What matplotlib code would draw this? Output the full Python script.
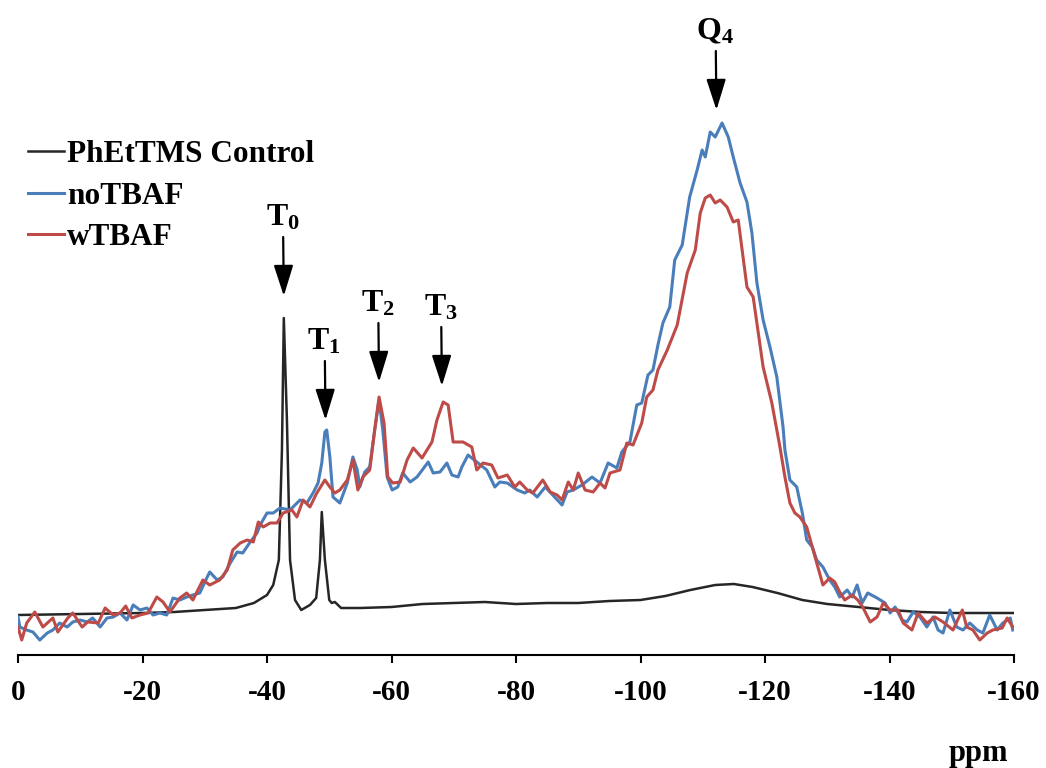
import numpy as np
import matplotlib
matplotlib.use("Agg")
import matplotlib.pyplot as plt

plt.rcParams["font.family"] = ["Liberation Serif", "DejaVu Serif"]
plt.rcParams["font.weight"] = "bold"
plt.rcParams["mathtext.fontset"] = "custom"
plt.rcParams["mathtext.bf"] = "Liberation Serif:bold"
plt.rcParams["mathtext.rm"] = "Liberation Serif:bold"

# chemical shift (ppm, positive numbers are plotted as negative) and intensity (a.u.)
control_ppm = [0, 10, 20, 25.1, 30, 35.0, 37.9, 40.0, 41.0, 41.9, 42.4, 42.7, 43.2, 43.7, 44.5,
               45.5, 46.9, 47.9, 48.5, 48.8, 49.3, 50.0, 50.4, 50.9, 51.9, 55, 60, 65, 70, 75,
               80, 85, 90, 95, 100, 104, 108, 112, 115, 118, 122, 126, 130, 135, 140, 145, 150,
               155, 160]
control_int = [40, 41, 42, 43, 45, 47, 52, 60, 70, 95, 205, 337, 235, 95, 55,
               45, 50, 57, 95, 143, 95, 55, 52, 53, 47, 47, 48, 51, 52, 53,
               51, 52, 52, 54, 55, 59, 65, 70, 71, 68, 62, 55, 51, 48, 45, 43, 42,
               42, 42]

notbaf_ppm = [0, 0.3, 1.4, 2.4, 3.5, 4.7, 5.6, 6.7, 7.9, 8.8, 10.0, 11.1, 12.0, 13.2, 14.3,
              15.3, 16.4, 17.5, 18.5, 19.6, 20.7, 21.7, 22.8, 23.9, 24.9, 26.0, 27.1, 28.1,
              29.2, 30.4, 30.8, 32.0, 32.9, 34.1, 35.2, 36.1, 37.3, 38.4, 38.9, 40.0, 41.0,
              42.1, 43.7, 45.3, 46.4, 47.4, 48.2, 48.8, 49.3, 49.6, 50.1, 50.6, 51.7, 52.9,
              53.8, 54.5, 54.9, 55.7, 56.5, 57.3, 58.0, 58.6, 59.3, 60.1, 61.0, 61.8, 63.0,
              64.1, 65.9, 66.7, 67.8, 68.9, 69.7, 70.7, 71.3, 72.3, 72.9, 73.9, 75.3, 76.6,
              77.4, 78.6, 80.2, 81.4, 82.2, 83.4, 84.7, 85.9, 87.4, 88.2, 89.2, 90.6, 92.2,
              93.5, 94.8, 96.2, 97.0, 98.3, 99.4, 100.2, 101.2, 102.0, 102.8, 103.6, 104.7,
              105.5, 106.7, 107.9, 109.1, 109.9, 110.4, 111.2, 112.0, 113.1, 114.1, 114.9,
              116.0, 117.1, 117.9, 118.7, 119.7, 120.8, 121.9, 122.9, 123.2, 124.0, 125.1,
              126.0, 126.7, 127.6, 128.3, 129.3, 130.4, 131.2, 132.0, 133.2, 134.0, 134.8,
              135.6, 136.5, 138.0, 139.3, 140.1, 140.9, 142.0, 142.8, 143.8, 144.9, 146.0,
              147.0, 147.8, 148.6, 149.7, 150.8, 151.8, 152.9, 154.1, 155.0, 156.1, 157.3,
              158.2, 159.4, 159.8]
notbaf_int = [38, 28, 25, 23, 15, 22, 25, 32, 28, 33, 35, 33, 37, 28, 37,
              38, 42, 35, 50, 45, 47, 40, 42, 40, 57, 55, 58, 60,
              62, 78, 83, 75, 78, 92, 103, 102, 113, 122, 130, 142, 142,
              147, 145, 155, 152, 162, 172, 192, 223, 225, 198, 158, 152, 172,
              198, 185, 168, 183, 188, 225, 255, 225, 178, 165, 168, 182, 173,
              178, 193, 182, 183, 192, 180, 178, 188, 200, 197, 192, 185, 168,
              173, 172, 165, 162, 165, 158, 168, 160, 150, 163, 165, 170, 178,
              172, 192, 187, 203, 213, 250, 252, 280, 285, 310, 332, 348,
              395, 410, 458, 485, 505, 498, 523, 518, 532, 518, 498,
              472, 453, 422, 372, 335, 308, 278, 228, 205, 175, 168,
              142, 115, 108, 95, 88, 75, 68, 58, 65, 58, 70,
              52, 62, 57, 52, 42, 48, 35, 33, 43, 38, 28,
              38, 25, 22, 45, 28, 25, 32, 25, 22, 40, 25,
              32, 37, 25]

wtbaf_ppm = [0, 0.6, 1.4, 2.7, 4.0, 5.6, 6.4, 8.0, 8.8, 10.3, 11.2, 12.9, 14.0, 15.3, 16.4,
             17.3, 18.3, 19.6, 20.9, 22.3, 23.3, 24.4, 26.0, 27.1, 28.1, 29.7, 30.8, 32.4,
             33.6, 34.5, 35.7, 36.8, 37.8, 38.6, 39.4, 40.5, 41.6, 42.6, 44.0, 44.8, 45.8,
             46.9, 48.0, 49.3, 50.1, 50.9, 51.7, 52.9, 53.8, 54.6, 55.4, 56.5, 57.3, 58.0,
             58.8, 59.4, 60.2, 61.4, 62.5, 63.5, 64.9, 66.5, 67.3, 68.3, 69.1, 69.9, 71.5,
             72.9, 73.7, 74.7, 76.1, 77.1, 78.6, 79.8, 80.6, 81.8, 82.7, 84.3, 85.5, 86.6,
             87.4, 88.4, 89.2, 90.0, 91.1, 92.4, 93.5, 94.3, 95.1, 96.7, 97.8, 98.8, 100.2,
             101.0, 102.0, 102.8, 104.3, 105.9, 107.5, 108.8, 109.6, 110.4, 111.2, 112.0,
             112.8, 113.9, 114.9, 115.7, 117.1, 118.1, 119.7, 121.1, 122.4, 123.2, 124.0,
             124.8, 125.6, 126.7, 127.6, 128.5, 129.3, 130.4, 131.2, 132.0, 132.8, 134.0,
             134.9, 135.7, 136.9, 138.0, 139.0, 140.1, 141.4, 142.2, 143.6, 144.6, 146.0,
             147.3, 148.6, 150.2, 151.7, 152.4, 153.4, 154.5, 155.7, 156.6, 158.1, 158.9,
             159.8]
wtbaf_int = [28, 15, 32, 43, 28, 37, 23, 37, 42, 28, 33, 32, 47, 40, 42,
             49, 37, 40, 42, 58, 53, 43, 57, 62, 55, 75, 70, 75,
             85, 105, 112, 115, 113, 133, 128, 132, 132, 142, 145, 138, 155,
             148, 162, 175, 168, 162, 165, 175, 195, 165, 178, 185, 225, 258,
             232, 178, 172, 173, 195, 207, 197, 213, 235, 253, 250, 213, 213,
             208, 185, 192, 190, 177, 180, 168, 173, 165, 162, 175, 163, 160,
             155, 173, 165, 182, 165, 163, 172, 167, 182, 185, 212, 210, 232,
             258, 265, 285, 305, 330, 382, 405, 442, 457, 460, 452,
             455, 448, 433, 435, 368, 358, 288, 252, 208, 178, 152,
             142, 138, 128, 108, 88, 70, 77, 73, 63, 55, 60,
             55, 48, 33, 38, 52, 45, 45, 32, 25, 42, 32,
             38, 33, 25, 45, 28, 25, 15, 22, 25, 27, 37,
             28]

labels = ["PhEtTMS Control", "noTBAF", "wTBAF"]
colors = ["#262626", "#4A7EBB", "#BE4B48"]

# peak assignments: letter, subscript, ppm of arrow tip, intensity of arrow tip
peak_letter = ["T", "T", "T", "T", "Q"]
peak_sub = ["0", "1", "2", "3", "4"]
peak_ppm = [42.7, 49.4, 58.0, 68.1, 112.2]
peak_tip = [359, 235, 273, 269, 545]

fig = plt.figure(figsize=(10.46, 7.68), dpi=100)
ax = fig.add_axes([18 / 1046, 113 / 768, 996 / 1046, 635 / 768])

series = [(control_ppm, control_int), (notbaf_ppm, notbaf_int), (wtbaf_ppm, wtbaf_int)]
for (xs, ys), lab, col in zip(series, labels, colors):
    lw = 1.8 if col == "#262626" else 2.2
    ax.plot(-np.array(xs), ys, color=col, lw=lw, label=lab, solid_joinstyle="round")

ax.set_xlim(0, -160)
ax.set_ylim(0, 635)
ax.set_xticks(np.arange(0, -161, -20))
ax.set_xticklabels([str(v) for v in np.arange(0, -161, -20)])
ax.set_yticks([])
for s in ["top", "right", "left"]:
    ax.spines[s].set_visible(False)
ax.spines["bottom"].set_linewidth(1.5)
ax.tick_params(axis="x", direction="out", length=5.5, width=1.5, labelsize=21, pad=12)

# arrows with peak labels
for let, sub, p, tip in zip(peak_letter, peak_sub, peak_ppm, peak_tip):
    ax.annotate("", xy=(-p, tip), xytext=(-p + 0.1, tip + 59),
                arrowprops=dict(arrowstyle="-|>,head_length=0.95,head_width=0.3",
                                mutation_scale=20, lw=1.6, color="black",
                                shrinkA=0, shrinkB=0))
    ax.text(-p + 0.2, tip + 64, r"$\mathbf{%s_{%s}}$" % (let, sub),
            ha="center", va="bottom", fontsize=23)

leg = ax.legend(loc="upper left", bbox_to_anchor=(28 / 1046, 1 - 140 / 768),
                bbox_transform=fig.transFigure, frameon=False, fontsize=22.5,
                handlelength=1.15, handletextpad=0.1, labelspacing=0.4,
                borderpad=0, borderaxespad=0)

fig.text(978 / 1046, 1 - 754 / 768, "ppm", ha="center", va="center", fontsize=22)

fig.savefig("out.png", dpi=100)
